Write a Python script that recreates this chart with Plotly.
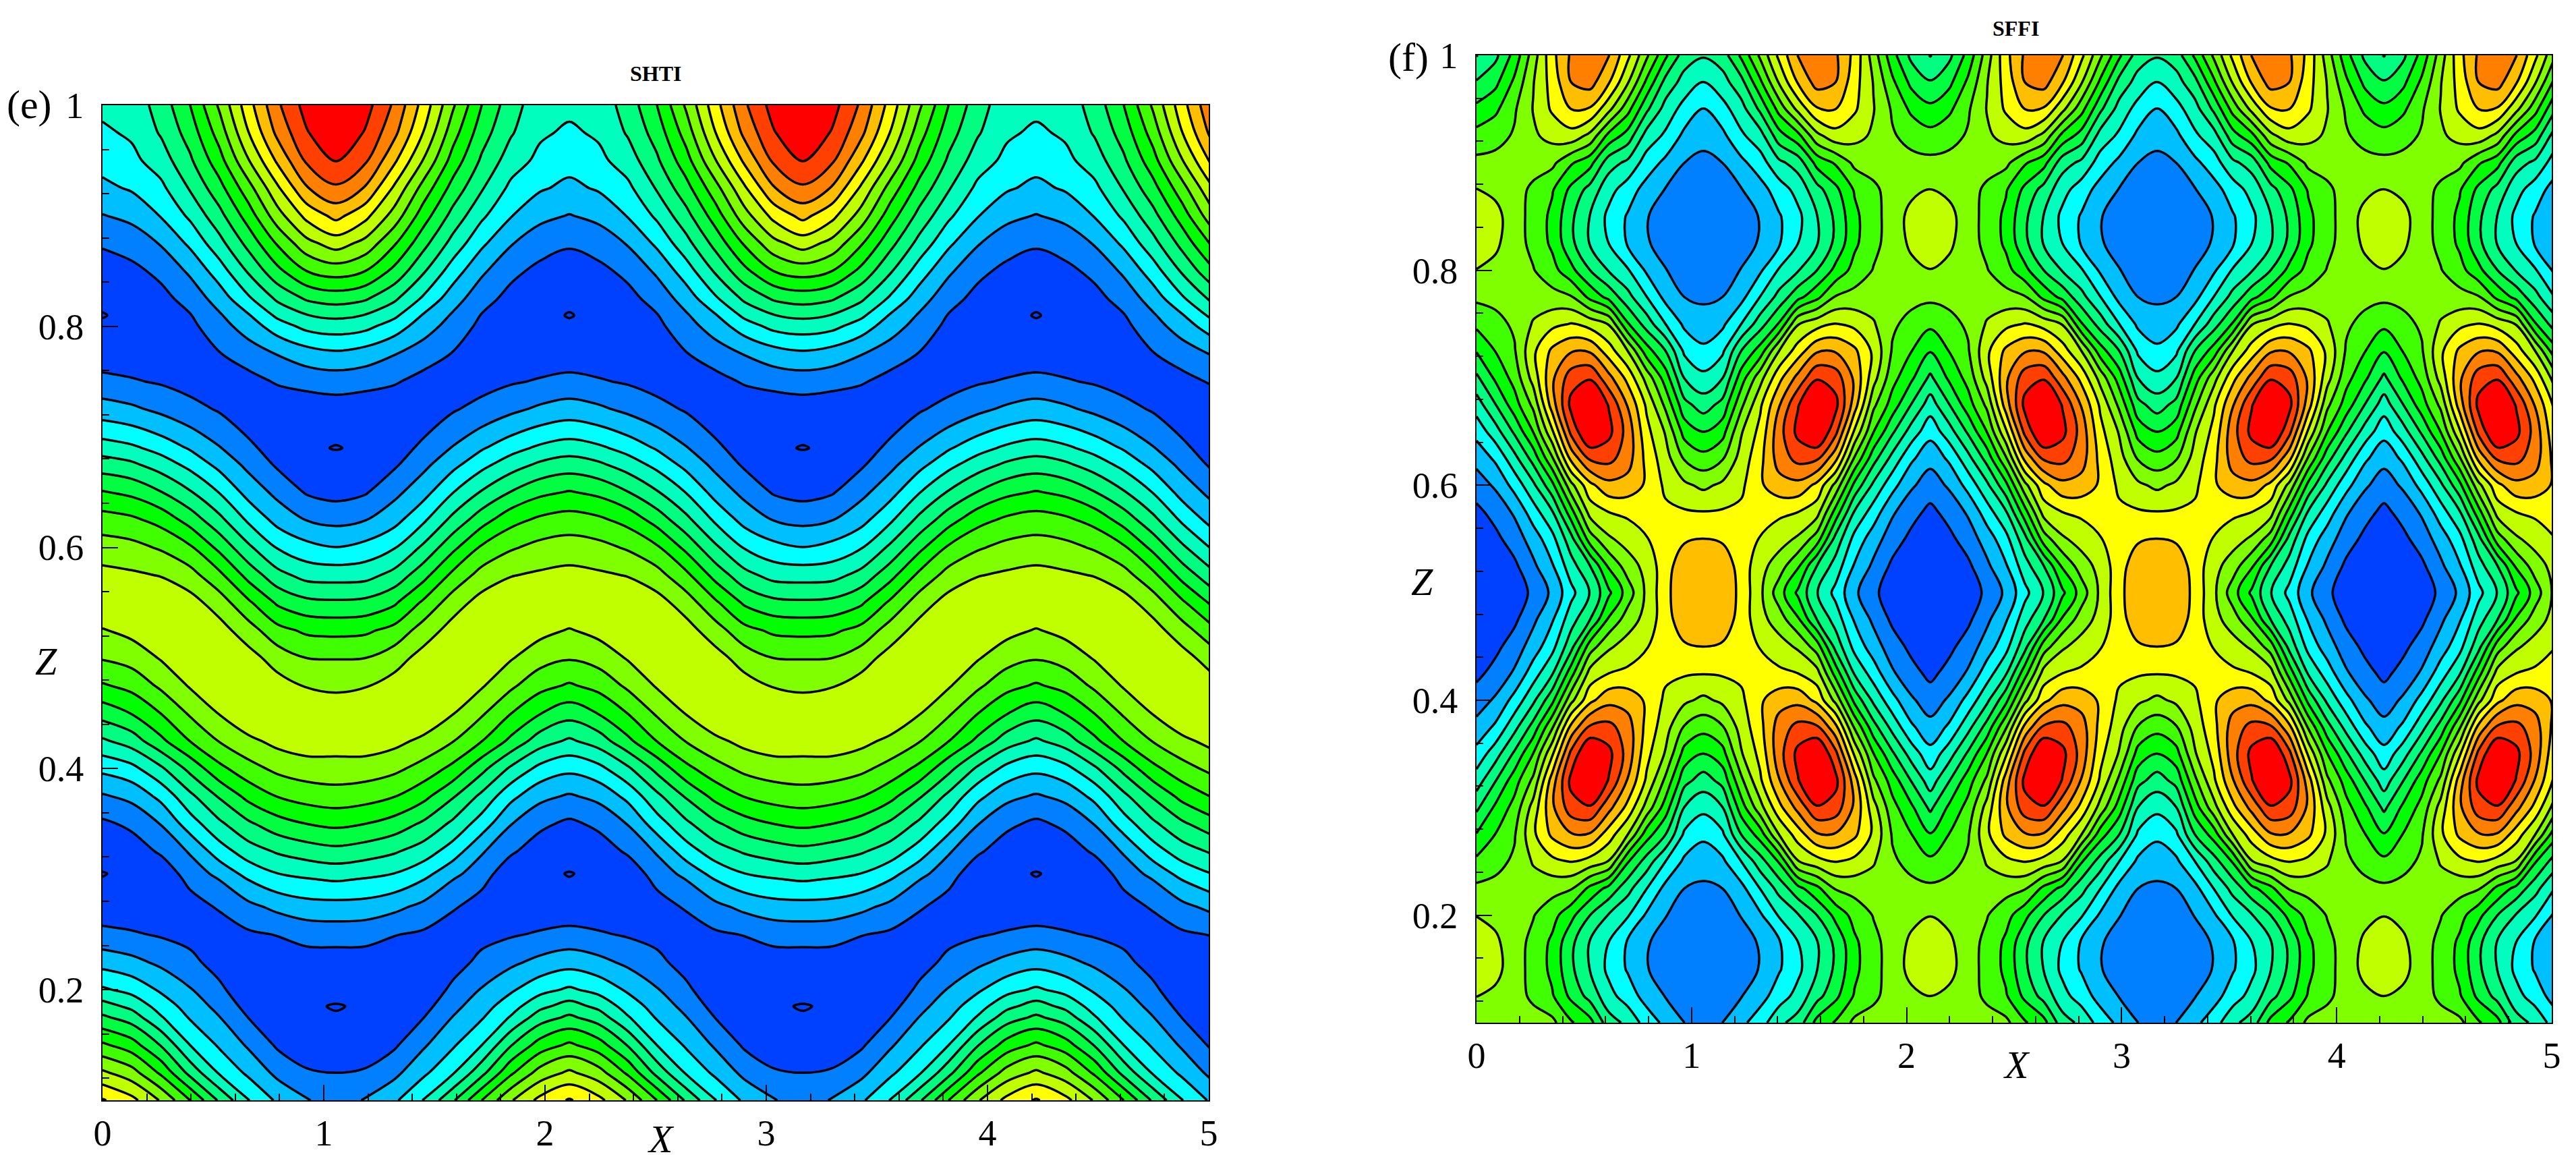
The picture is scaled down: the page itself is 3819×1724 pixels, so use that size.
import numpy as np
import plotly.graph_objects as go

W, H = 3819, 1724
FONT = 'Liberation Serif'

# band colours, lowest first (the first one is what sits under the lowest contour)
band_colors = ['#0040FF', '#0040FF', '#0080FF', '#00BFFF', '#00FFFF', '#00FFBF', '#00FF80', '#00FF40', '#00FF00',
               '#40FF00', '#80FF00', '#BFFF00', '#FFFF00', '#FFBF00', '#FF8000', '#FF4000', '#FF0000']

shti_z = [1, .975, .95, .925, .9, .875, .85, .825, .81, .8, .775, .75, .725, .7, .69, .675, .65, .625, .6, .575, .55,
          .525, .5, .475, .45, .425, .4, .375, .35, .325, .305, .3, .275, .25, .225, .2, .185, .175, .15, .125, .1]
shti_x = [0, .132, .264, .396, .528, .659, .791, .923, 1.055, 1.187, 1.319, 1.451, 1.583, 1.714, 1.846, 1.978, 2.11,
          2.242, 2.374, 2.506, 2.638, 2.769, 2.901, 3.033, 3.165, 3.297, 3.429, 3.561, 3.693, 3.824, 3.956, 4.088, 4.22,
          4.352, 4.484, 4.616, 4.748, 4.879, 5.011]
shti_0 = [4.25, 3.83, 3.35, 2.77, 1.95, 1.13, .45, .06, -.014, .04, .4, 1.3, 2.44, 3.88, 4.52, 5.48, 7.07, 8.44, 9.46,
          10.3, 10.9, 9.93, 9.08, 7.88, 6.41, 4.84, 3.25, 1.88, .8, .15, -.014, .01, .35, 1.29, 2.6, 4.16, 5.42, 6.18,
          8.18, 10.18, 12.1]
shti_1 = [4.4, 4.15, 3.74, 3.11, 2.26, 1.42, .75, .18, .07, .12, .45, 1.09, 2.19, 3.57, 4.2, 5.18, 6.76, 8.2, 9.3, 10.15,
          10.9, 10.3, 9.4, 8.32, 7.04, 5.47, 3.7, 2.27, 1.2, .5, .07, .1, .35, 1.11, 2.28, 3.67, 4.75, 5.52, 7.45, 9.41,
          11.3]
shti_2 = [5.42, 5.1, 4.49, 3.76, 3.05, 2.07, 1.24, .7, .45, .35, .5, .9, 1.77, 3.06, 3.62, 4.53, 6.04, 7.66, 8.88, 9.95,
          10.75, 10.65, 10.08, 9.19, 8.02, 6.76, 4.82, 3.28, 2.04, 1.13, .4, .3, .45, .9, 1.78, 2.85, 3.57, 4.09, 5.93,
          7.81, 9.9]
shti_3 = [7.0, 6.44, 5.84, 5.1, 4.19, 3.2, 2.18, 1.36, .95, .75, .5, .6, 1.34, 2.37, 2.89, 3.7, 5.09, 6.58, 8.15, 9.38,
          10.4, 10.85, 10.75, 10.1, 9.14, 8.03, 6.3, 4.76, 3.52, 2.11, 1.41, 1.25, .6, .7, 1.25, 2.07, 2.57, 2.9, 3.99,
          5.67, 8.0]
shti_4 = [9.16, 8.43, 7.6, 6.64, 5.67, 4.65, 3.51, 2.45, 1.88, 1.6, .95, .45, .9, 1.7, 2.06, 2.7, 3.96, 5.28, 6.73, 8.25,
          9.52, 10.4, 10.85, 10.8, 10.05, 9.05, 7.73, 6.11, 4.79, 3.51, 2.3, 2.03, 1.11, .45, .6, 1.21, 1.7, 2.03, 2.86,
          3.88, 5.85]
shti_5 = [11.6, 10.96, 9.93, 8.6, 7.46, 6.32, 5.12, 3.83, 2.91, 2.45, 1.49, .65, .3, .97, 1.28, 1.74, 2.63, 3.83, 5.2,
          6.65, 8.19, 9.46, 10.4, 10.8, 10.9, 9.75, 8.63, 7.3, 5.82, 4.51, 3.36, 3.04, 1.73, .85, .2, .3, .65, .98, 1.86,
          2.79, 4.05]
shti_6 = [13.83, 13.25, 12.19, 10.83, 9.58, 8.11, 6.73, 5.18, 4.22, 3.52, 2.04, 1.1, .3, .13, .4, .85, 1.72, 2.65, 3.93,
          5.33, 6.85, 8.32, 9.56, 10.4, 10.8, 10.3, 9.24, 8.04, 6.58, 5.11, 3.99, 3.7, 2.26, 1.04, .4, .13, .13, .2, .85,
          1.73, 2.83]
shti_7 = [15.4, 14.92, 14.17, 12.92, 11.3, 9.68, 8.0, 6.12, 4.97, 4.28, 2.54, 1.35, .35, .02, .05, .3, .9, 1.96, 3.31,
          4.64, 6.27, 7.81, 9.0, 9.95, 10.5, 10.6, 9.51, 8.43, 7.0, 5.48, 4.24, 3.95, 2.6, 1.35, .55, .12, .03, .04, .25,
          1.14, 2.03]
shti_8 = [16.7, 15.85, 15.03, 13.84, 12.3, 10.46, 8.45, 6.42, 5.22, 4.5, 2.8, 1.45, .5, .04, -.014, .1, .65, 1.71, 3.02,
          4.57, 6.17, 7.72, 8.96, 9.8, 10.6, 10.55, 9.57, 8.59, 7.22, 5.7, 4.43, 4.11, 2.64, 1.43, .5, .08, -.014, .02, .3,
          .98, 1.8]
shti_wave = [shti_0, shti_1, shti_2, shti_3, shti_4, shti_5, shti_6, shti_7, shti_8, shti_7, shti_6, shti_5, shti_4,
             shti_3, shti_2, shti_1]
shti_cols = shti_wave + shti_wave + [shti_0, shti_1, shti_2, shti_3, shti_4, shti_5, shti_6]

# SFFI panel: same idea, column 0 sits under the dark diamond, column 12 under the amber oval
sffi_z = [1, .975, .95, .925, .9, .875, .85, .825, .8, .775, .75, .725, .7, .675, .65, .625, .6, .575, .55, .525, .5,
          .475, .45, .425, .4, .375, .35, .325, .3, .275, .25, .225, .2, .175, .15, .125, .1]
sffi_x = [0, .088, .176, .264, .352, .44, .528, .615, .703, .791, .879, .967, 1.055, 1.143, 1.231, 1.319, 1.407, 1.495,
          1.583, 1.67, 1.758, 1.846, 1.934, 2.022, 2.11, 2.198, 2.286, 2.374, 2.462, 2.55, 2.638, 2.725, 2.813, 2.901,
          2.989, 3.077, 3.165, 3.253, 3.341, 3.429, 3.517, 3.605, 3.693, 3.78, 3.868, 3.956, 4.044, 4.132, 4.22, 4.308,
          4.396, 4.484, 4.572, 4.66, 4.748, 4.835, 4.923, 5.011]
sffi_0 = [4.95, 6.08, 7.26, 8.36, 9.27, 10.03, 10.6, 10.6, 9.97, 9.2, 8.22, 7.06, 5.8, 4.5, 3.35, 2.32, 1.5, .75, .35, .15,
          .1, .15, .35, .75, 1.5, 2.32, 3.35, 4.5, 5.8, 7.06, 8.22, 9.2, 9.97, 10.6, 10.6, 10.03, 9.27]
sffi_1 = [5.75, 6.74, 7.79, 8.68, 9.29, 9.75, 10.35, 10.2, 9.71, 9.26, 8.71, 8.03, 7.19, 5.97, 4.58, 3.18, 2.15, 1.34, .75,
          .5, .35, .5, .75, 1.34, 2.15, 3.18, 4.58, 5.97, 7.19, 8.03, 8.71, 9.26, 9.71, 10.2, 10.35, 9.75, 9.29]
sffi_2 = [7.35, 8.2, 8.87, 9.1, 9.25, 9.3, 9.4, 9.4, 9.3, 9.3, 9.15, 8.9, 8.36, 7.55, 6.17, 4.67, 3.35, 2.14, 1.46, .8,
          .5, .8, 1.46, 2.14, 3.35, 4.67, 6.17, 7.55, 8.36, 8.9, 9.15, 9.3, 9.3, 9.4, 9.4, 9.3, 9.25]
sffi_3 = [9.5, 9.95, 10.05, 9.85, 9.3, 8.85, 8.7, 8.75, 9.05, 9.5, 10.1, 10.8, 10.4, 9.24, 8.04, 6.39, 4.79, 3.53, 2.47,
          1.8, 1.2, 1.8, 2.47, 3.53, 4.79, 6.39, 8.04, 9.24, 10.4, 10.8, 10.1, 9.5, 9.05, 8.75, 8.7, 8.85, 9.3]
sffi_4 = [11.7, 11.4, 11.15, 10.3, 9.25, 8.1, 7.75, 7.8, 8.38, 9.35, 10.74, 12.2, 12.8, 12.5, 10.85, 8.87, 6.72, 4.9, 3.67,
          2.9, 2.2, 2.9, 3.67, 4.9, 6.72, 8.87, 10.85, 12.5, 12.8, 12.2, 10.74, 9.35, 8.38, 7.8, 7.75, 8.1, 9.25]
sffi_5 = [13.15, 13.0, 12.0, 10.6, 8.12, 6.75, 6.2, 6.25, 7.28, 9.1, 11.05, 12.9, 14.55, 15.3, 14.3, 12.3, 9.7, 7.6, 5.65,
          4.57, 3.7, 4.57, 5.65, 7.6, 9.7, 12.3, 14.3, 15.3, 14.55, 12.9, 11.05, 9.1, 7.28, 6.25, 6.2, 6.75, 8.12]
sffi_6 = [13.9, 13.4, 11.9, 9.7, 7.34, 5.63, 4.96, 4.93, 6.0, 7.75, 10.6, 12.88, 14.9, 16.2, 16.2, 14.18, 11.73, 10.4, 8.5,
          6.0, 5.05, 6.0, 8.5, 10.4, 11.73, 14.18, 16.2, 16.2, 14.9, 12.88, 10.6, 7.75, 6.0, 4.93, 4.96, 5.63, 7.34]
sffi_7 = [13.05, 12.1, 10.28, 7.67, 5.43, 4.35, 3.75, 4.0, 4.93, 6.7, 9.95, 11.48, 13.32, 14.93, 15.3, 14.32, 12.7, 11.0,
          9.84, 8.15, 6.8, 8.15, 9.84, 11.0, 12.7, 14.32, 15.3, 14.93, 13.32, 11.48, 9.95, 6.7, 4.93, 4.0, 3.75, 4.35, 5.43]
sffi_8 = [11.25, 10.1, 8.36, 6.57, 4.77, 3.5, 2.9, 2.9, 4.1, 5.35, 7.1, 10.0, 11.69, 12.92, 13.6, 13.45, 12.6, 11.2, 10.42,
          9.5, 8.45, 9.5, 10.42, 11.2, 12.6, 13.45, 13.6, 12.92, 11.69, 10.0, 7.1, 5.35, 4.1, 2.9, 2.9, 3.5, 4.77]
sffi_9 = [9.2, 7.8, 6.2, 4.58, 3.55, 2.6, 2.05, 2.1, 2.85, 4.03, 5.56, 7.45, 9.62, 10.82, 11.3, 11.7, 11.85, 11.5, 10.95,
          10.35, 10.22, 10.35, 10.95, 11.5, 11.85, 11.7, 11.3, 10.82, 9.62, 7.45, 5.56, 4.03, 2.85, 2.1, 2.05, 2.6, 3.55]
sffi_10 = [7.2, 5.67, 4.6, 3.82, 2.75, 1.95, 1.6, 1.6, 2.05, 2.7, 4.0, 6.0, 7.5, 8.76, 9.9, 10.4, 10.8, 11.2, 11.4, 11.6,
           11.7, 11.6, 11.4, 11.2, 10.8, 10.4, 9.9, 8.76, 7.5, 6.0, 4.0, 2.7, 2.05, 1.6, 1.6, 1.95, 2.75]
sffi_11 = [5.5, 4.6, 3.63, 2.75, 2.0, 1.45, 1.2, 1.2, 1.3, 2.0, 2.8, 3.8, 4.95, 6.3, 7.6, 8.9, 10.2, 11.1, 11.88, 12.6,
           12.8, 12.6, 11.88, 11.1, 10.2, 8.9, 7.6, 6.3, 4.95, 3.8, 2.8, 2.0, 1.3, 1.2, 1.2, 1.45, 2.0]
sffi_12 = [5.1, 3.95, 2.98, 2.25, 1.8, 1.35, 1.1, 1.1, 1.25, 1.85, 2.4, 3.22, 4.25, 5.53, 6.95, 8.35, 9.78, 11.04, 12.02,
           12.85, 12.95, 12.85, 12.02, 11.04, 9.78, 8.35, 6.95, 5.53, 4.25, 3.22, 2.4, 1.85, 1.25, 1.1, 1.1, 1.35, 1.8]
sffi_wave = [sffi_0, sffi_1, sffi_2, sffi_3, sffi_4, sffi_5, sffi_6, sffi_7, sffi_8, sffi_9, sffi_10, sffi_11, sffi_12,
             sffi_11, sffi_10, sffi_9, sffi_8, sffi_7, sffi_6, sffi_5, sffi_4, sffi_3, sffi_2, sffi_1]
sffi_cols = sffi_wave + sffi_wave + [sffi_0, sffi_1, sffi_2, sffi_3, sffi_4, sffi_5, sffi_6, sffi_7, sffi_8, sffi_9]

x_ticks = [0, 1, 2, 3, 4, 5]
z_ticks = [.2, .4, .6, .8, 1]
z_labels = ['0.2', '0.4', '0.6', '0.8', '1']

colorscale = [[i / 16, c] for i, c in enumerate(band_colors)]


def contour(x, z, cols, xa, ya):
    return go.Contour(x=x, y=z, z=np.array(cols).T, xaxis=xa, yaxis=ya, colorscale=colorscale, showscale=False,
                      autocontour=False, contours=dict(start=0, end=15, size=1, coloring='fill'),
                      line=dict(color='black', width=3.5, smoothing=1), hoverinfo='skip')


fig = go.Figure()
fig.add_trace(contour(shti_x, shti_z, shti_cols, 'x', 'y'))
fig.add_trace(contour(sffi_x, sffi_z, sffi_cols, 'x2', 'y2'))

tick_font = dict(family=FONT, size=54, color='black')


def x_axis(left, right, anchor):
    return dict(domain=[left / W, right / W], range=[0, 5], anchor=anchor, tickvals=x_ticks, ticks='inside', ticklen=23,
                tickwidth=2, tickcolor='black', showgrid=False, zeroline=False, showline=True, mirror=True,
                linecolor='black', linewidth=2, tickfont=tick_font, ticklabelstandoff=0, automargin=False,
                minor=dict(dtick=.2, tick0=0, ticks='inside', ticklen=10, tickwidth=2, tickcolor='black', showgrid=False))


def y_axis(top, bottom, anchor):
    return dict(domain=[1 - bottom / H, 1 - top / H], range=[.1, 1], anchor=anchor, tickvals=z_ticks, ticktext=z_labels,
                ticks='inside', ticklen=23, tickwidth=2, tickcolor='black', showgrid=False, zeroline=False,
                showline=True, mirror=True, linecolor='black', linewidth=2, tickfont=tick_font, ticklabelstandoff=15,
                automargin=False,
                minor=dict(dtick=.04, tick0=0, ticks='inside', ticklen=10, tickwidth=2, tickcolor='black', showgrid=False))


def label(text, px, py, size):
    return dict(text=text, x=px / W, y=1 - py / H, xref='paper', yref='paper', showarrow=False, xanchor='center',
                yanchor='middle', font=dict(family=FONT, size=size, color='black'))


fig.update_layout(
    width=W, height=H, autosize=False, margin=dict(l=0, r=0, t=0, b=0), paper_bgcolor='white', plot_bgcolor='white',
    xaxis=x_axis(152, 1792, 'y'), yaxis=y_axis(156, 1631, 'x'),
    xaxis2=x_axis(2189, 3783, 'y2'), yaxis2=y_axis(82, 1516, 'x2'),
    annotations=[
        label('<b>SHTI</b>', 972, 109, 32),
        label('<b>SFFI</b>', 2988, 42, 32),
        label('(e)', 43, 155, 60),
        label('(f)', 2088, 85, 60),
        label('<i>X</i>', 980, 1688, 58),
        label('<i>X</i>', 2990, 1578, 58),
        label('<i>Z</i>', 68, 980, 58),
        label('<i>Z</i>', 2108, 862, 58),
    ],
)

fig.write_html('out.html', post_script="document.body.style.margin='0';", config={'displayModeBar': False})
